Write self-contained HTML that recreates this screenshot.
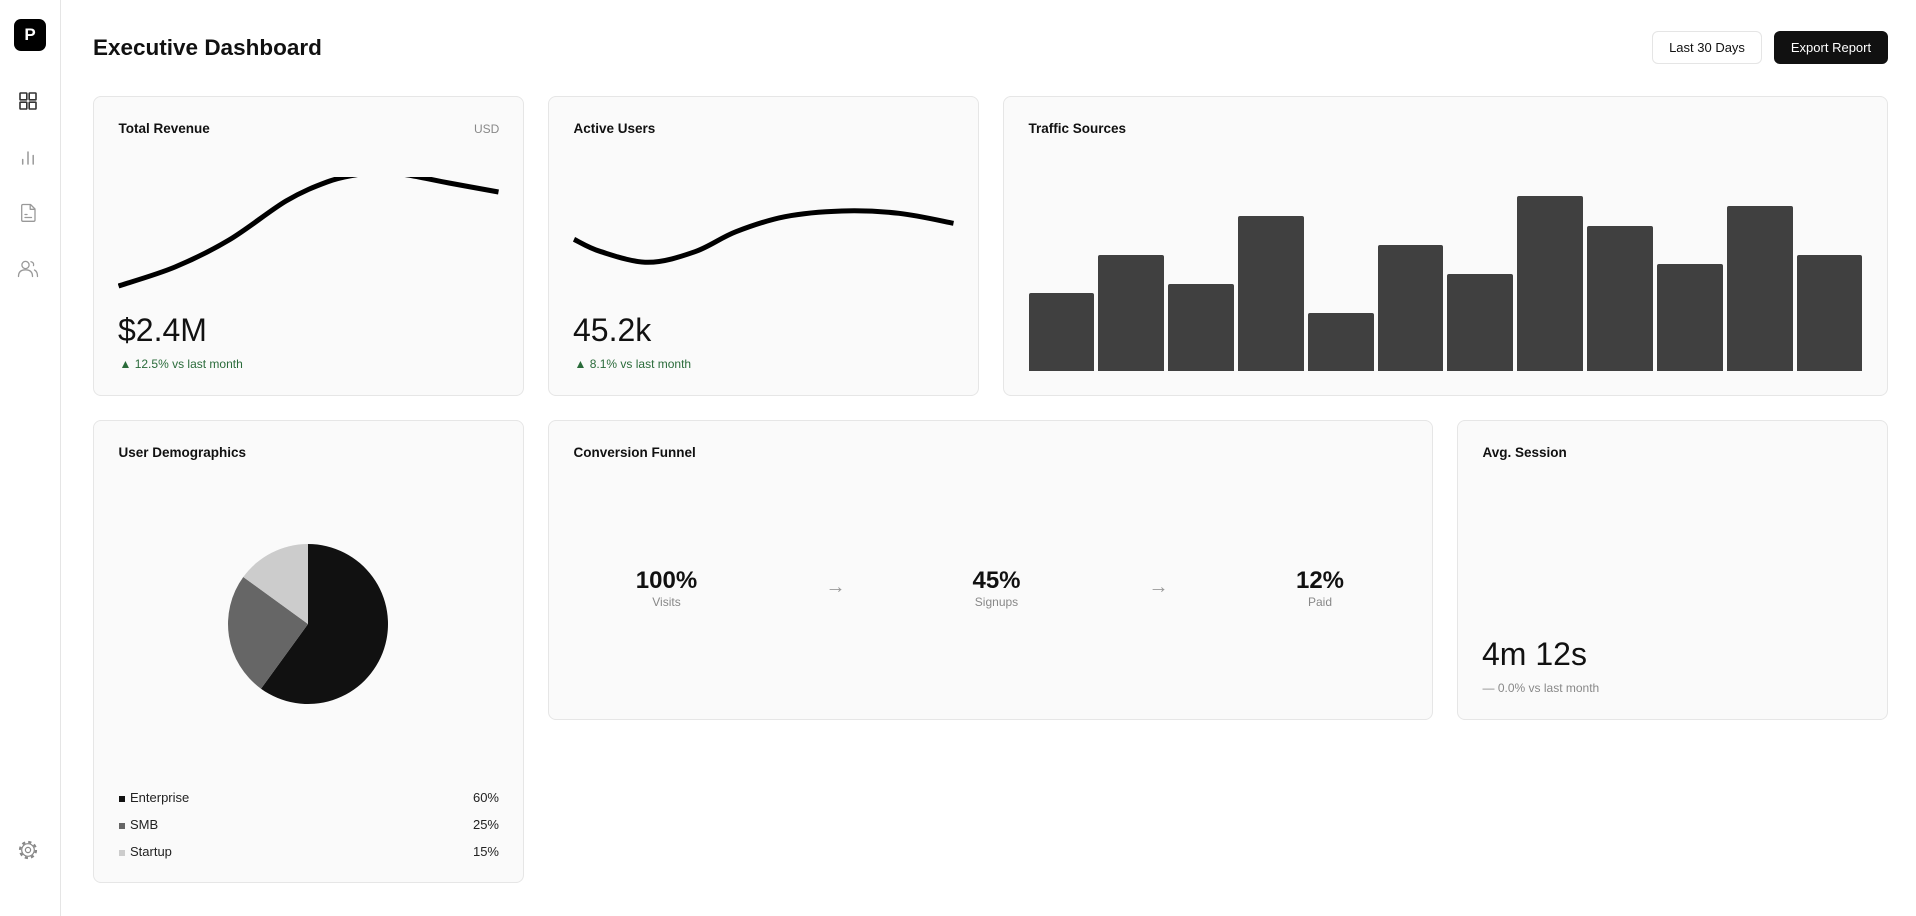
<!DOCTYPE html>
<html>
<head>
<meta charset="utf-8">
<style>
  html,body{margin:0;padding:0;}
  body{width:1916px;height:916px;overflow:hidden;background:#fff;position:relative;
       font-family:"Liberation Sans",Arial,sans-serif;color:#111;}
  .abs{position:absolute;white-space:nowrap;}
  .sidebar{position:absolute;left:0;top:0;width:60px;height:916px;border-right:1px solid #e5e5e5;background:#fff;}
  .logo{position:absolute;left:14px;top:19px;width:32px;height:32px;background:#000;border-radius:7px;
        color:#fff;font-weight:bold;font-size:17px;line-height:32px;text-align:center;}
  .card{position:absolute;background:#fafafa;border:1px solid #e6e6e6;border-radius:8px;box-sizing:border-box;}
  .ctitle{position:absolute;font-size:13.5px;font-weight:bold;line-height:16px;color:#111;white-space:nowrap;}
  .val{position:absolute;font-size:32px;line-height:38px;color:#111;white-space:nowrap;}
  .chg{position:absolute;font-size:12px;line-height:16px;white-space:nowrap;}
  .btn{position:absolute;top:31px;height:33px;box-sizing:border-box;border-radius:6px;font-size:13px;
       line-height:31px;text-align:center;}
  .fn{position:absolute;transform:translateX(-50%);text-align:center;white-space:nowrap;}
  .fnum{font-size:24px;font-weight:bold;line-height:28px;color:#111;}
  .flab{font-size:12px;line-height:14px;color:#888;}
  .arrow{position:absolute;transform:translateX(-50%);font-size:20px;line-height:24px;color:#999;}
  .leg{position:absolute;left:118px;width:381px;height:16px;font-size:13px;line-height:16px;color:#222;}
  .leg .sq{position:absolute;left:0.7px;top:5.5px;width:6px;height:6px;}
  .leg .nm{position:absolute;left:12px;top:0;}
  .leg .pc{position:absolute;right:0;top:0;}
</style>
</head>
<body>

<!-- Sidebar -->
<div class="sidebar">
  <div class="logo">P</div>
  <svg class="abs" style="left:0;top:0" width="60" height="916" viewBox="0 0 60 916">
    <!-- grid icon -->
    <g fill="none" stroke="#333" stroke-width="1.6">
      <rect x="20" y="93" width="6.8" height="6.8" rx="0.6"/>
      <rect x="29.2" y="93" width="6.8" height="6.8" rx="0.6"/>
      <rect x="20" y="102.2" width="6.8" height="6.8" rx="0.6"/>
      <rect x="29.2" y="102.2" width="6.8" height="6.8" rx="0.6"/>
    </g>
    <!-- bar chart icon -->
    <g stroke="#999" stroke-width="1.5" stroke-linecap="round">
      <line x1="22.7" y1="159.5" x2="22.7" y2="164"/>
      <line x1="28" y1="152" x2="28" y2="164"/>
      <line x1="33.2" y1="155.5" x2="33.2" y2="164"/>
    </g>
    <!-- doc icon -->
    <g fill="none" stroke="#999" stroke-width="1.3" stroke-linejoin="round" stroke-linecap="round">
      <path d="M23,204.5 H30.5 L35,209 V220 A1.3,1.3 0 0 1 33.7,221.3 H23 A1.3,1.3 0 0 1 21.7,220 V205.8 A1.3,1.3 0 0 1 23,204.5 Z"/>
      <path d="M30.2,204.8 V209.3 H34.7"/>
      <line x1="25" y1="214.5" x2="27" y2="214.5"/>
      <line x1="25" y1="217.5" x2="31.5" y2="217.5"/>
    </g>
    <!-- users icon -->
    <g fill="none" stroke="#999" stroke-width="1.3" stroke-linecap="round">
      <circle cx="25.5" cy="265" r="3.6"/>
      <path d="M18.5,276.5 C18.5,271.5 21.5,269.8 25.5,269.8 C29.5,269.8 32.5,271.5 32.5,276.5"/>
      <path d="M31,261.7 C33.2,262.2 34,263.7 33.5,265.6"/>
      <path d="M34.5,270 C36.5,271 37.5,273 37.5,276.5"/>
    </g>
    <!-- gear icon -->
    <g fill="none" stroke="#888">
      <circle cx="28" cy="850" r="8" stroke-width="2.2" stroke-dasharray="3.2 3.08"/>
      <circle cx="28" cy="850" r="6.3" stroke-width="1.2"/>
      <circle cx="28" cy="850" r="2.6" stroke-width="1.2"/>
    </g>
  </svg>
</div>

<!-- Header -->
<div class="abs" style="left:93px;top:33.5px;font-size:22.5px;line-height:28px;font-weight:bold;color:#111;">Executive Dashboard</div>
<div class="btn" style="left:1652px;width:110px;background:#fff;border:1px solid #e5e5e5;color:#111;">Last 30 Days</div>
<div class="btn" style="left:1774px;width:114px;background:#111;color:#fff;border:1px solid #111;">Export Report</div>

<!-- Row 1 cards -->
<div class="card" style="left:93px;top:96px;width:431px;height:300px;"></div>
<div class="card" style="left:548px;top:96px;width:431px;height:300px;"></div>
<div class="card" style="left:1003px;top:96px;width:885px;height:300px;"></div>

<!-- Row 2 cards -->
<div class="card" style="left:93px;top:420px;width:431px;height:463px;"></div>
<div class="card" style="left:548px;top:420px;width:885px;height:300px;"></div>
<div class="card" style="left:1457px;top:420px;width:431px;height:300px;"></div>

<!-- Card titles -->
<div class="ctitle" style="left:118.5px;top:121px;">Total Revenue</div>
<div class="abs" style="left:474px;top:120.5px;width:25px;text-align:right;font-size:12px;line-height:16px;color:#888;">USD</div>
<div class="ctitle" style="left:573.5px;top:121px;">Active Users</div>
<div class="ctitle" style="left:1028.5px;top:121px;">Traffic Sources</div>
<div class="ctitle" style="left:118.5px;top:445px;">User Demographics</div>
<div class="ctitle" style="left:573.5px;top:445px;">Conversion Funnel</div>
<div class="ctitle" style="left:1482.5px;top:445px;">Avg. Session</div>

<!-- Values -->
<div class="val" style="left:118px;top:311px;">$2.4M</div>
<div class="chg" style="left:119.5px;top:356px;color:#2a6b3a;">▲ 12.5% vs last month</div>
<div class="val" style="left:573px;top:311px;">45.2k</div>
<div class="chg" style="left:574.5px;top:356px;color:#2a6b3a;">▲ 8.1% vs last month</div>
<div class="val" style="left:1482px;top:635px;">4m 12s</div>
<div class="chg" style="left:1482.5px;top:680px;color:#888;">— 0.0% vs last month</div>

<!-- Sparklines + pie -->
<svg class="abs" style="left:0;top:0" width="1916" height="916" viewBox="0 0 1916 916">
  <defs>
    <clipPath id="clipRev"><rect x="118" y="177" width="381" height="125"/></clipPath>
    <clipPath id="clipUsr"><rect x="573" y="177" width="381" height="125"/></clipPath>
  </defs>
  <path clip-path="url(#clipRev)" fill="none" stroke="#000" stroke-width="5" stroke-linecap="butt"
    d="M118.5,286 C127.9,282.8 156.6,274.7 175,267 C193.4,259.3 210.5,251 229,240 C247.5,229 269.7,210.7 286,201 C302.3,191.3 315.5,186.3 327,182 C338.5,177.7 346,176.7 355,175 C364,173.3 372.2,172 381,172 C389.8,172 396.7,173.2 408,175 C419.3,176.8 433.9,180.2 449,183 C464.1,185.8 490.25,190.5 498.5,192"/>
  <path clip-path="url(#clipUsr)" fill="none" stroke="#000" stroke-width="5" stroke-linecap="butt"
    d="M574,239.3 C578.5,241.4 588.7,247.9 601,251.7 C613.3,255.5 632.3,262.3 648,262.3 C663.7,262.3 680.3,256.8 695,251.7 C709.7,246.6 721,237.5 736,231.7 C751,225.9 767.3,220.15 785,216.7 C802.7,213.25 823,211.6 842,211 C861,210.4 880.4,211.25 899,213.3 C917.6,215.35 944.4,221.6 953.5,223.3"/>
  <!-- pie -->
  <path fill="#111" d="M308,624 L308,544 A80,80 0 1,1 260.98,688.72 Z"/>
  <path fill="#666" d="M308,624 L260.98,688.72 A80,80 0 0,1 243.28,576.98 Z"/>
  <path fill="#ccc" d="M308,624 L243.28,576.98 A80,80 0 0,1 308,544 Z"/>
</svg>

<!-- Traffic bars -->
<div class="abs" style="left:1028.5px;top:177px;width:834px;height:194px;display:flex;gap:4px;align-items:flex-end;">
  <div style="flex:1;height:40%;background:#404040;border-radius:2px 2px 0 0;"></div>
  <div style="flex:1;height:60%;background:#404040;border-radius:2px 2px 0 0;"></div>
  <div style="flex:1;height:45%;background:#404040;border-radius:2px 2px 0 0;"></div>
  <div style="flex:1;height:80%;background:#404040;border-radius:2px 2px 0 0;"></div>
  <div style="flex:1;height:30%;background:#404040;border-radius:2px 2px 0 0;"></div>
  <div style="flex:1;height:65%;background:#404040;border-radius:2px 2px 0 0;"></div>
  <div style="flex:1;height:50%;background:#404040;border-radius:2px 2px 0 0;"></div>
  <div style="flex:1;height:90%;background:#404040;border-radius:2px 2px 0 0;"></div>
  <div style="flex:1;height:75%;background:#404040;border-radius:2px 2px 0 0;"></div>
  <div style="flex:1;height:55%;background:#404040;border-radius:2px 2px 0 0;"></div>
  <div style="flex:1;height:85%;background:#404040;border-radius:2px 2px 0 0;"></div>
  <div style="flex:1;height:60%;background:#404040;border-radius:2px 2px 0 0;"></div>
</div>

<!-- Legend -->
<div class="leg" style="top:790px;"><span class="sq" style="background:#111;"></span><span class="nm">Enterprise</span><span class="pc">60%</span></div>
<div class="leg" style="top:817px;"><span class="sq" style="background:#666;"></span><span class="nm">SMB</span><span class="pc">25%</span></div>
<div class="leg" style="top:844px;"><span class="sq" style="background:#ccc;"></span><span class="nm">Startup</span><span class="pc">15%</span></div>

<!-- Funnel -->
<div class="fn" style="left:666.5px;top:567px;"><div class="fnum">100%</div><div class="flab">Visits</div></div>
<div class="arrow" style="left:835.5px;top:575px;">→</div>
<div class="fn" style="left:996.5px;top:567px;"><div class="fnum">45%</div><div class="flab">Signups</div></div>
<div class="arrow" style="left:1158.5px;top:575px;">→</div>
<div class="fn" style="left:1320px;top:567px;"><div class="fnum">12%</div><div class="flab">Paid</div></div>

</body>
</html>
